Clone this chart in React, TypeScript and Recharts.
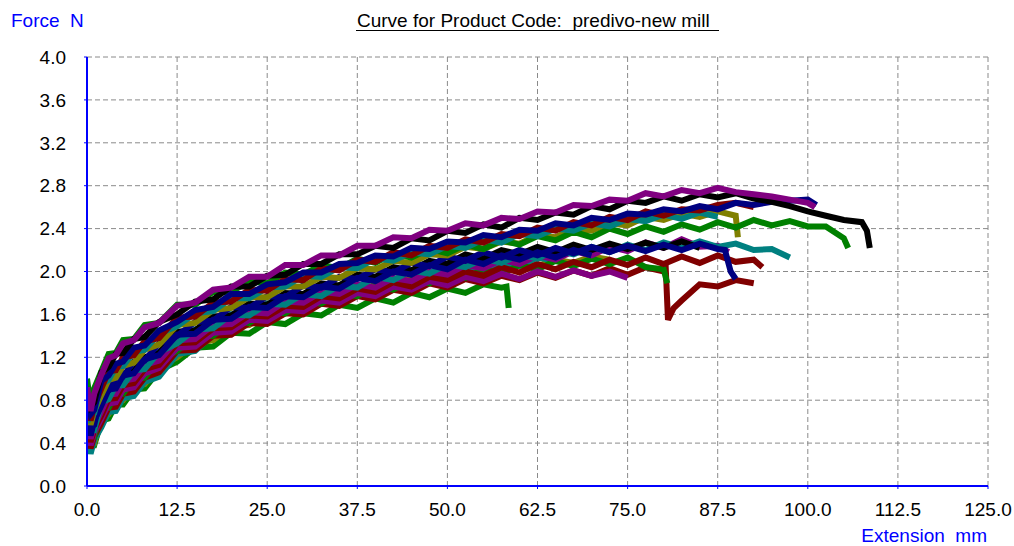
import { CartesianGrid, Line, LineChart, XAxis, YAxis } from "recharts";

// common sampling of extension (mm) for every test
const extension = [
  0, 0.5, 1, 2, 3, 4, 5, 6.5, 8, 10, 12.5, 15, 17.5, 20, 22.5, 25, 27.5, 30, 32.5, 35, 37.5, 40, 42.5, 45,
  47.5, 50, 52.5, 55, 57.5, 60, 62.5, 65, 67.5, 70, 72.5, 75, 77.5, 80, 82.5, 85, 87.5, 90, 92.5, 95, 97.5,
  100, 102.5, 105, 107.5,
];

const xTicks = [0, 12.5, 25, 37.5, 50, 62.5, 75, 87.5, 100, 112.5, 125];
const yTicks = [0, 0.4, 0.8, 1.2, 1.6, 2.0, 2.4, 2.8, 3.2, 3.6, 4.0];

// force (N) per test
const greenB = [0.53, 0.38, 0.38, 0.61, 0.63, 0.76, 0.76, 0.9, 0.91, 1.08, 1.16, 1.29, 1.3, 1.43, 1.42, 1.53, 1.51, 1.61, 1.59, 1.69, 1.66, 1.75, 1.71, 1.8, 1.76, 1.84, 1.8, 1.88, 1.85];
const oliveB = [0.55, 0.4, 0.4, 0.64, 0.67, 0.79, 0.8, 0.93, 0.95, 1.11, 1.2, 1.33, 1.36, 1.49, 1.5, 1.61, 1.62, 1.72, 1.72, 1.81, 1.8, 1.88, 1.86, 1.94, 1.92, 1.99, 1.97, 2.04, 2.01, 2.08, 2.05, 2.11, 2.08, 2.14, 2.11];
const tealC = [0.58, 0.3, 0.43, 0.55, 0.69, 0.7, 0.82, 0.84, 0.97, 1.02, 1.23, 1.26, 1.41, 1.44, 1.56, 1.56, 1.68, 1.67, 1.78, 1.76, 1.86, 1.84, 1.93, 1.9, 1.99, 1.96, 2.05, 2.01, 2.09, 2.05, 2.13, 2.1];
const maroonC = [0.61, 0.35, 0.46, 0.59, 0.73, 0.74, 0.86, 0.88, 1.01, 1.06, 1.26, 1.27, 1.4, 1.41, 1.52, 1.51, 1.61, 1.6, 1.7, 1.68, 1.77, 1.74, 1.83, 1.8, 1.89, 1.85, 1.93, 1.89, 1.96, 1.92, 1.99, 1.94, 2.01, 1.96, 2.03, 1.97, 2.04, 2.0, 1.73, 1.88, 1.86, 1.92, 1.89];
const greenC = [0.6, 0.46, 0.46, 0.71, 0.73, 0.86, 0.86, 1.0, 1.01, 1.18, 1.26, 1.39, 1.4, 1.53, 1.52, 1.63, 1.61, 1.72, 1.7, 1.8, 1.77, 1.86, 1.83, 1.92, 1.89, 1.97, 1.94, 2.02, 1.98, 2.06, 2.02, 2.1, 2.05, 2.12, 2.07, 2.13, 2.04, 2.02];
const purpleC = [0.64, 0.38, 0.5, 0.63, 0.77, 0.78, 0.9, 0.92, 1.05, 1.1, 1.29, 1.3, 1.43, 1.44, 1.55, 1.54, 1.64, 1.63, 1.73, 1.71, 1.8, 1.77, 1.86, 1.83, 1.91, 1.87, 1.95, 1.91, 1.98, 1.93, 2.0, 1.95, 2.01, 1.96, 2.0, 1.94];
const maroonB = [0.67, 0.41, 0.53, 0.66, 0.81, 0.82, 0.94, 0.96, 1.09, 1.13, 1.33, 1.34, 1.47, 1.48, 1.59, 1.58, 1.68, 1.67, 1.77, 1.75, 1.84, 1.81, 1.9, 1.86, 1.95, 1.92, 2.0, 1.96, 2.04, 1.99, 2.07, 2.02, 2.09, 2.04, 2.11, 2.06, 2.13, 2.07, 2.14, 2.08, 2.15, 2.09, 2.11];
const purpleB = [0.7, 0.44, 0.56, 0.7, 0.85, 0.86, 0.98, 1.0, 1.13, 1.17, 1.36, 1.37, 1.5, 1.51, 1.62, 1.61, 1.72, 1.71, 1.81, 1.79, 1.88, 1.85, 1.94, 1.91, 2.0, 1.97, 2.06, 2.03, 2.11, 2.07, 2.15, 2.11, 2.19, 2.15, 2.23, 2.19, 2.27, 2.22, 2.3, 2.23, 2.24];
const tealB = [0.66, 0.52, 0.52, 0.78, 0.81, 0.94, 0.94, 1.08, 1.09, 1.25, 1.33, 1.46, 1.47, 1.6, 1.59, 1.7, 1.69, 1.79, 1.77, 1.87, 1.85, 1.95, 1.92, 2.01, 1.98, 2.07, 2.04, 2.12, 2.08, 2.16, 2.12, 2.2, 2.16, 2.23, 2.18, 2.25, 2.2, 2.27, 2.22, 2.28, 2.23, 2.26, 2.2, 2.21, 2.13];
const blackB = [0.76, 0.5, 0.63, 0.77, 0.93, 0.93, 1.05, 1.07, 1.2, 1.24, 1.44, 1.45, 1.58, 1.59, 1.7, 1.69, 1.8, 1.79, 1.89, 1.87, 1.97, 1.95, 2.04, 2.01, 2.1, 2.07, 2.16, 2.12, 2.2, 2.16, 2.23, 2.18, 2.25, 2.2, 2.26, 2.21, 2.27, 2.22, 2.28, 2.22];
const navyC = [0.73, 0.47, 0.61, 0.75, 0.9, 0.91, 1.03, 1.05, 1.18, 1.22, 1.41, 1.42, 1.55, 1.56, 1.67, 1.66, 1.77, 1.76, 1.86, 1.84, 1.94, 1.91, 2.0, 1.97, 2.06, 2.02, 2.11, 2.07, 2.15, 2.11, 2.18, 2.13, 2.2, 2.15];
const navyB = [0.72, 0.55, 0.57, 0.86, 0.89, 1.02, 1.02, 1.16, 1.17, 1.33, 1.4, 1.53, 1.54, 1.67, 1.66, 1.77, 1.76, 1.87, 1.85, 1.95, 1.93, 2.02, 1.99, 2.08, 2.05, 2.14, 2.1, 2.18, 2.13, 2.2, 2.15, 2.22, 2.17, 2.23, 2.18, 2.24, 2.19, 2.25, 2.2, 2.26, 2.21];
const oliveA = [0.81, 0.57, 0.7, 0.85, 0.99, 1.01, 1.12, 1.15, 1.27, 1.32, 1.5, 1.52, 1.64, 1.66, 1.76, 1.76, 1.86, 1.86, 1.95, 1.94, 2.03, 2.02, 2.1, 2.08, 2.16, 2.15, 2.23, 2.21, 2.28, 2.26, 2.34, 2.32, 2.4, 2.38, 2.45, 2.43, 2.51, 2.48, 2.54, 2.51, 2.56, 2.52];
const greenA = [1.0, 0.75, 0.91, 1.07, 1.23, 1.24, 1.36, 1.37, 1.5, 1.52, 1.69, 1.69, 1.81, 1.81, 1.91, 1.89, 1.99, 1.97, 2.06, 2.03, 2.12, 2.08, 2.17, 2.13, 2.21, 2.17, 2.25, 2.21, 2.29, 2.25, 2.33, 2.29, 2.37, 2.32, 2.4, 2.35, 2.42, 2.37, 2.44, 2.39, 2.46, 2.41, 2.48, 2.43, 2.47, 2.42, 2.42, 2.31];
const tealA = [0.8, 0.64, 0.68, 0.95, 0.99, 1.11, 1.12, 1.25, 1.27, 1.42, 1.49, 1.61, 1.63, 1.75, 1.75, 1.85, 1.86, 1.96, 1.95, 2.04, 2.03, 2.12, 2.1, 2.18, 2.16, 2.24, 2.22, 2.3, 2.27, 2.35, 2.33, 2.4, 2.38, 2.45, 2.42, 2.49, 2.47, 2.53, 2.49, 2.55, 2.51];
const maroonA = [0.87, 0.61, 0.75, 0.91, 1.07, 1.08, 1.2, 1.22, 1.35, 1.38, 1.57, 1.58, 1.71, 1.72, 1.83, 1.82, 1.93, 1.92, 2.03, 2.01, 2.11, 2.09, 2.18, 2.15, 2.24, 2.22, 2.3, 2.27, 2.35, 2.33, 2.41, 2.38, 2.46, 2.43, 2.51, 2.48, 2.56, 2.52, 2.58, 2.57, 2.62, 2.64, 2.6];
const navyA = [0.83, 0.67, 0.71, 0.98, 1.03, 1.14, 1.16, 1.29, 1.31, 1.45, 1.53, 1.64, 1.67, 1.79, 1.79, 1.88, 1.9, 1.99, 1.99, 2.07, 2.08, 2.15, 2.14, 2.22, 2.21, 2.28, 2.27, 2.34, 2.32, 2.39, 2.38, 2.45, 2.43, 2.5, 2.48, 2.54, 2.53, 2.58, 2.56, 2.61, 2.58, 2.64, 2.62, 2.65, 2.66, 2.67];
const blackA = [0.88, 0.74, 0.78, 1.06, 1.11, 1.23, 1.24, 1.37, 1.39, 1.53, 1.6, 1.72, 1.74, 1.86, 1.86, 1.96, 1.97, 2.07, 2.07, 2.16, 2.16, 2.24, 2.22, 2.31, 2.29, 2.38, 2.36, 2.44, 2.41, 2.5, 2.48, 2.55, 2.53, 2.61, 2.58, 2.66, 2.64, 2.7, 2.66, 2.72, 2.69, 2.73, 2.68, 2.65, 2.61, 2.56, 2.52, 2.48, 2.46];
const purpleA = [0.92, 0.7, 0.86, 1.04, 1.19, 1.22, 1.33, 1.36, 1.48, 1.52, 1.68, 1.71, 1.83, 1.85, 1.95, 1.95, 2.06, 2.06, 2.15, 2.15, 2.24, 2.24, 2.32, 2.31, 2.39, 2.38, 2.45, 2.43, 2.5, 2.49, 2.56, 2.55, 2.62, 2.61, 2.67, 2.66, 2.73, 2.7, 2.76, 2.73, 2.78, 2.74, 2.72, 2.7, 2.67, 2.64];

// break / end points off the common sampling: [extension, force]
const breaks: Record<string, [number, number][]> = {
  greenB: [[58.2, 1.86], [58.5, 1.66]],
  maroonC: [[80.3, 2.02], [80.6, 1.55], [81.4, 1.66]],
  greenC: [[80.5, 1.89]],
  maroonB: [[93.7, 2.04]],
  purpleB: [[89, 2.18]],
  navyB: [[88.5, 2.2], [89.3, 2.0], [90, 1.93]],
  oliveA: [[90.3, 2.32]],
  greenA: [[105.6, 2.22]],
  navyA: [[101.2, 2.62]],
  blackA: [[108.2, 2.38], [108.6, 2.22]],
  purpleA: [[101, 2.6]],
};

// drawing order: last one ends up on top
const tests: [string, number[]][] = [
  ["greenB", greenB], ["oliveB", oliveB], ["tealC", tealC], ["maroonC", maroonC], ["greenC", greenC],
  ["purpleC", purpleC], ["maroonB", maroonB], ["purpleB", purpleB], ["tealB", tealB], ["blackB", blackB],
  ["navyC", navyC], ["navyB", navyB], ["oliveA", oliveA], ["greenA", greenA], ["tealA", tealA],
  ["maroonA", maroonA], ["navyA", navyA], ["blackA", blackA], ["purpleA", purpleA],
];

const colors: Record<string, string> = {
  green: "#008000",
  olive: "#808000",
  teal: "#008080",
  maroon: "#800000",
  purple: "#800080",
  black: "#000000",
  navy: "#000080",
};

const font = "'Liberation Sans', Arial, sans-serif";
const BLUE = "#0000ff";

function points(name: string, force: number[]) {
  const pts = force.map((f, i) => ({ x: extension[i], f }));
  for (const [x, f] of breaks[name] ?? []) pts.push({ x, f });
  return pts.sort((a, b) => a.x - b.x);
}

function colorOf(name: string) {
  return colors[name.replace(/[A-C]$/, "")];
}

export default function App() {
  return (
    <div style={{ position: "absolute", left: 0, top: 0, width: 1014, height: 546, background: "#fff" }}>
      <LineChart width={1014} height={546} margin={{ top: 57, right: 26, bottom: 0, left: 0 }}>
        <CartesianGrid stroke="#8a8a8a" strokeDasharray="5 3" />
        <XAxis
          dataKey="x"
          type="number"
          domain={[0, 125]}
          ticks={xTicks}
          allowDataOverflow
          height={60}
          tickFormatter={(v: number) => v.toFixed(1)}
          axisLine={{ stroke: BLUE, strokeWidth: 2 }}
          tickLine={{ stroke: BLUE }}
          tickSize={3}
          tickMargin={14}
          tick={{ fill: "#000", fontSize: 19, fontFamily: font }}
        />
        <YAxis
          type="number"
          domain={[0, 4]}
          ticks={yTicks}
          allowDataOverflow
          width={87}
          tickFormatter={(v: number) => v.toFixed(1)}
          axisLine={{ stroke: BLUE, strokeWidth: 2 }}
          tickLine={{ stroke: BLUE }}
          tickSize={3}
          tickMargin={18}
          tick={{ fill: "#000", fontSize: 19, fontFamily: font }}
        />
        {tests.map(([name, force]) => (
          <Line
            key={name}
            data={points(name, force)}
            dataKey="f"
            type="linear"
            stroke={colorOf(name)}
            strokeWidth={6}
            strokeLinejoin="miter"
            dot={false}
            activeDot={false}
            isAnimationActive={false}
          />
        ))}
      </LineChart>
      <svg
        width={1014}
        height={546}
        style={{ position: "absolute", left: 0, top: 0, pointerEvents: "none" }}
        fontFamily={font}
        fontSize={19}
      >
        <text x={11} y={27} fill={BLUE} style={{ whiteSpace: "pre" }}>
          Force  N
        </text>
        <text x={357} y={27} fill="#000" style={{ whiteSpace: "pre" }}>
          Curve for Product Code:  predivo-new mill
        </text>
        <line x1={356} x2={719} y1={30.5} y2={30.5} stroke="#000" strokeWidth={1} />
        <text x={987} y={542} fill={BLUE} textAnchor="end" style={{ whiteSpace: "pre" }}>
          Extension  mm
        </text>
      </svg>
    </div>
  );
}
